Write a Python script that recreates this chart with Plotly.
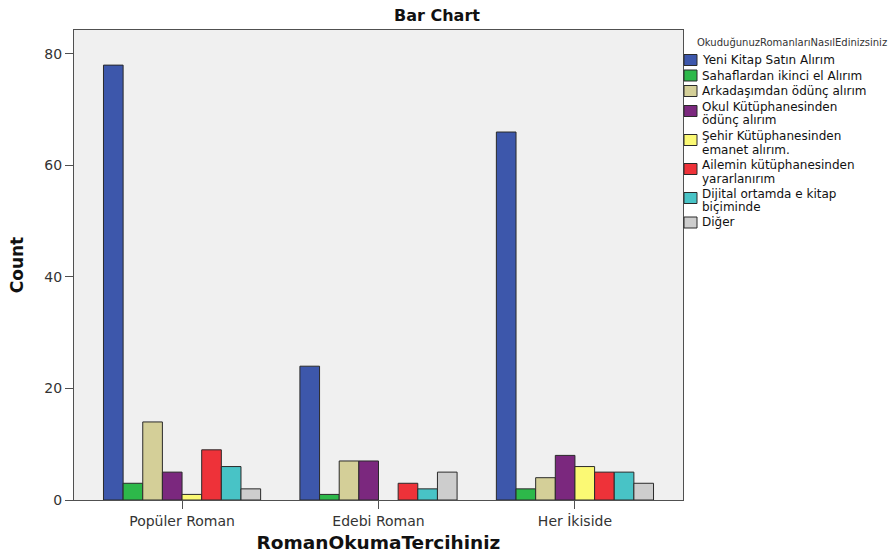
import plotly.graph_objects as go

categories = ["Popüler Roman", "Edebi Roman", "Her İkiside"]

series_names = [
    "Yeni Kitap Satın Alırım",
    "Sahaflardan ikinci el Alırım",
    "Arkadaşımdan ödünç alırım",
    "Okul Kütüphanesinden<br>ödünç alırım",
    "Şehir Kütüphanesinden<br>emanet alırım.",
    "Ailemin kütüphanesinden<br>yararlanırım",
    "Dijital ortamda e kitap<br>biçiminde",
    "Diğer",
]

yeni_kitap = [78, 24, 66]
sahaflardan = [3, 1, 2]
arkadasimdan = [14, 7, 4]
okul_kutuphanesi = [5, 7, 8]
sehir_kutuphanesi = [1, None, 6]
ailemin = [9, 3, 5]
dijital = [6, 2, 5]
diger = [2, 5, 3]

series_values = [yeni_kitap, sahaflardan, arkadasimdan, okul_kutuphanesi,
                 sehir_kutuphanesi, ailemin, dijital, diger]

colors = ["#3D57AB", "#2DB84A", "#D4CF98", "#7B287E",
          "#FBF974", "#EE3239", "#48C3C6", "#CDCDCD"]

y_ticks = [0, 20, 40, 60, 80]

legend_title = "OkuduğunuzRomanlarıNasılEdinizsiniz"

# Figure geometry (pixels)
W, H = 895, 556
ML, MR, MT, MB = 74, 212, 30, 56
PW, PH = W - ML - MR, H - MT - MB

def paper_x(px):
    return (px - ML) / PW

def paper_y(py):
    return (H - MB - py) / PH

font_family = "DejaVu Sans, Verdana, sans-serif"
edge = "#2a2a2a"

fig = go.Figure()
for name, vals, col in zip(series_names, series_values, colors):
    fig.add_trace(go.Bar(
        x=categories, y=vals, name=name, showlegend=False,
        marker=dict(color=col, line=dict(color=edge, width=1)),
    ))

# Hand-built legend: swatch + wrapped text lines
shapes = []
annotations = []
annotations.append(dict(
    text=legend_title, xref="paper", yref="paper",
    x=paper_x(695), y=paper_y(42), xanchor="left", yanchor="middle",
    showarrow=False, font=dict(size=10, color="#333333", family=font_family),
))
line_step = 14.0
y_line = 60.0
for name, col in zip(series_names, colors):
    lines = name.split("<br>")
    for i, ln in enumerate(lines):
        annotations.append(dict(
            text=ln, xref="paper", yref="paper",
            x=paper_x(700), y=paper_y(y_line + i * line_step),
            xanchor="left", yanchor="middle", showarrow=False,
            font=dict(size=12, color="#111111", family=font_family),
        ))
    cy = y_line + (len(lines) - 1) * 4.5
    shapes.append(dict(
        type="rect", xref="paper", yref="paper",
        x0=paper_x(684), x1=paper_x(697),
        y0=paper_y(cy - 5.5), y1=paper_y(cy + 5.5),
        fillcolor=col, line=dict(color=edge, width=1),
    ))
    y_line += 15.5 if len(lines) == 1 else 29.0

fig.update_layout(
    width=W, height=H,
    margin=dict(l=ML, r=MR, t=MT, b=MB),
    paper_bgcolor="white",
    plot_bgcolor="#F0F0F0",
    barmode="group",
    bargap=0.2,
    bargroupgap=0,
    font=dict(family=font_family, color="#222222"),
    title=dict(text="<b>Bar Chart</b>", xref="container", x=437 / W,
               xanchor="center", yref="container", y=1 - 15 / H,
               yanchor="middle",
               font=dict(size=16, family=font_family, color="#111111")),
    xaxis=dict(
        range=[-0.55, 2.55],
        automargin=False,
        showline=True, linecolor="#505050", linewidth=1.3, mirror=True,
        ticks="outside", ticklen=8, tickcolor="#505050", tickwidth=1.3,
        tickfont=dict(size=14, color="#333333"),
        title=dict(text="<b>RomanOkumaTercihiniz</b>",
                   font=dict(size=18.5, color="#111111"), standoff=8),
        showgrid=False,
    ),
    yaxis=dict(
        range=[0, 84.3],
        automargin=False,
        tickvals=y_ticks,
        showline=True, linecolor="#505050", linewidth=1.3, mirror=True,
        ticks="outside", ticklen=8, tickcolor="#505050", tickwidth=1.3,
        tickfont=dict(size=14, color="#333333"),
        title=dict(text="<b>Count</b>", font=dict(size=17, color="#111111"),
                   standoff=16),
        showgrid=False, zeroline=False,
    ),
    shapes=shapes,
    annotations=annotations,
)

fig.write_html("out.html")
